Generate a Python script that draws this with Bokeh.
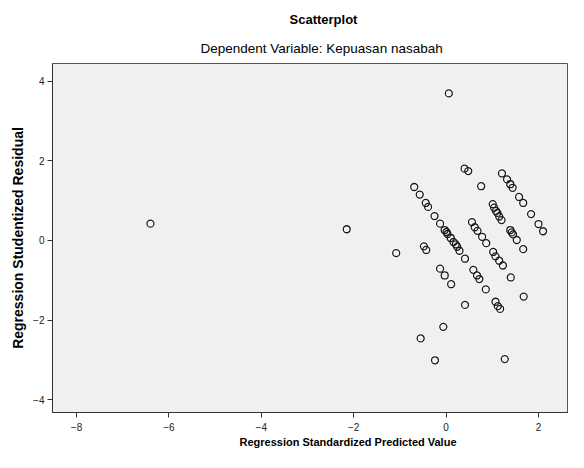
from bokeh.plotting import figure
from bokeh.models import Title, Range1d, FixedTicker
from bokeh.embed import file_html
from bokeh.resources import INLINE

# Regression Standardized Predicted Value (x) and Studentized Residual (y)
pred = [-6.40, -2.15, -1.08, 0.06, 0.40, 0.48, 0.76,
        -0.69, -0.57, -0.44, -0.39, -0.25, -0.13, -0.03, 0.01, 0.03, 0.10,
        0.16, 0.21, 0.24, 0.29, 0.41, -0.48, -0.43,
        0.56, 0.62, 0.68, 0.78, 0.87, 1.02, 1.07, 1.15, 1.23,
        1.01, 1.04, 1.08, 1.11, 1.15, 1.20, 1.39, 1.42, 1.45, 1.53, 1.67,
        1.21, 1.32, 1.39, 1.44, 1.58, 1.67, 1.84, 2.00, 2.10,
        -0.13, -0.03, 0.11, 0.59, 0.67, 0.72, 0.86, 0.41, 1.07, 1.12, 1.17,
        1.40, 1.68, -0.06, -0.55, -0.24, 1.27]
resid = [0.42, 0.28, -0.32, 3.69, 1.80, 1.74, 1.36,
         1.34, 1.15, 0.94, 0.84, 0.61, 0.42, 0.26, 0.21, 0.16, 0.06,
         -0.04, -0.10, -0.16, -0.26, -0.46, -0.15, -0.24,
         0.46, 0.33, 0.24, 0.09, -0.07, -0.29, -0.40, -0.51, -0.63,
         0.91, 0.82, 0.74, 0.69, 0.60, 0.51, 0.26, 0.20, 0.15, 0.01, -0.22,
         1.68, 1.53, 1.41, 1.32, 1.09, 0.94, 0.66, 0.41, 0.23,
         -0.71, -0.88, -1.10, -0.74, -0.88, -0.97, -1.23, -1.62, -1.54, -1.65, -1.72,
         -0.93, -1.41, -2.17, -2.46, -3.01, -2.98]

x_ticks = [-8, -6, -4, -2, 0, 2]
y_ticks = [-4, -2, 0, 2, 4]

FONT = "Liberation Sans"

p = figure(width=568, height=452, output_backend="svg", toolbar_location=None,
           x_range=Range1d(-8.52, 2.65), y_range=Range1d(-4.32, 4.44),
           min_border_left=52, min_border_right=0, min_border_bottom=40,
           min_border_top=63)

p.title.visible = False
sub = Title(text="Dependent Variable: Kepuasan nasabah", align="left",
            text_font=FONT, text_font_size="13.5px", text_font_style="normal",
            text_color="#000000", offset=148, standoff=15)
main = Title(text="Scatterplot", align="left", text_font=FONT,
             text_font_size="13px", text_font_style="bold",
             text_color="#000000", offset=237, standoff=9)
p.add_layout(sub, "above")
p.add_layout(main, "above")

xlab = Title(text="Regression Standardized Predicted Value", align="left",
             text_font=FONT, text_font_size="11px", text_font_style="bold",
             text_color="#000000", offset=187, standoff=0)
p.add_layout(xlab, "below")

p.background_fill_color = "#f0f0f0"
p.border_fill_color = "white"
p.outline_line_color = "#555555"
p.outline_line_width = 1
p.grid.visible = False

for ax in (p.xaxis[0], p.yaxis[0]):
    ax.axis_line_color = "#333333"
    ax.major_tick_line_color = "#333333"
    ax.major_tick_out = 5
    ax.major_tick_in = 0
    ax.minor_tick_line_color = None
    ax.major_label_text_font = FONT
    ax.major_label_text_font_size = "10px"
    ax.major_label_text_color = "#222222"
    ax.axis_label_text_font = FONT
    ax.axis_label_text_font_style = "bold"
    ax.axis_label_text_color = "#000000"

p.xaxis.ticker = FixedTicker(ticks=x_ticks)
p.yaxis.ticker = FixedTicker(ticks=y_ticks)
p.yaxis.axis_label = "Regression Studentized Residual"
p.yaxis.axis_label_text_font_size = "14px"
p.yaxis.axis_label_standoff = 4
p.xaxis.major_label_standoff = 5
p.yaxis.major_label_standoff = 3

p.scatter(pred, resid, marker="circle", size=7, fill_color=None,
          line_color="white", line_width=3, line_alpha=0.8)
p.scatter(pred, resid, marker="circle", size=7, fill_color=None,
          line_color="#1a1a1a", line_width=1.3)

open("out.html", "w").write(file_html(p, INLINE))
